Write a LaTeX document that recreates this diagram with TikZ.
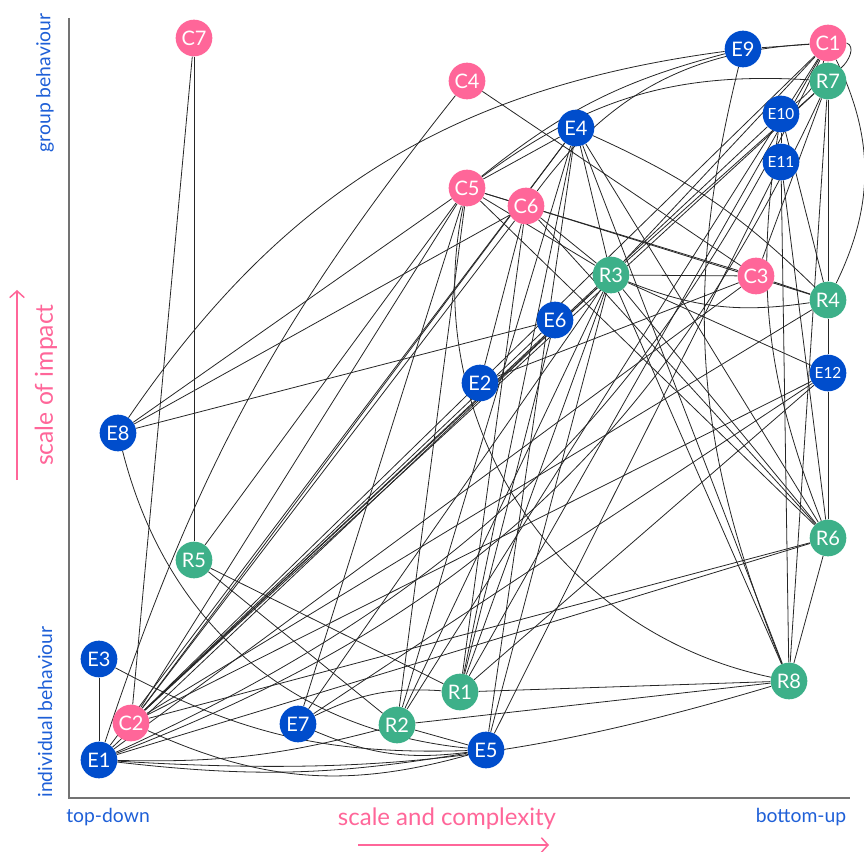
\documentclass[tikz,border=0pt]{standalone}
\usepackage{fontspec}
\setmainfont{Lato}
\usetikzlibrary{arrows.meta}
\definecolor{cpink}{RGB}{255,102,153}
\definecolor{eblue}{RGB}{0,77,204}
\definecolor{rgreen}{RGB}{61,176,137}
\definecolor{lblblue}{RGB}{30,95,215}
\pgfdeclarelayer{bg}
\pgfsetlayers{bg,main}

\begin{document}
\begin{tikzpicture}[x=0.75pt,y=0.75pt,
  dot/.style={circle,inner sep=0pt,minimum size=27.5pt,text=white,font=\fontsize{15}{15}\selectfont},
  cdot/.style={dot,fill=cpink},
  edot/.style={dot,fill=eblue},
  rdot/.style={dot,fill=rgreen},
  twodig/.style={font=\fontsize{11.5}{11.5}\selectfont},
  link/.style={black!85,line width=0.6pt},
  axisline/.style={black!55,line width=1.2pt},
  pinkarrow/.style={cpink,line width=1.1pt,-{Straight Barb[length=5pt,width=11pt]}}]
\useasboundingbox (0,0) rectangle (864,-852);

%Axes
\coordinate (top) at (69,-18);
\coordinate (origin) at (69,-798);
\coordinate (right) at (850,-798);
\draw [axisline] (top) -- (origin) -- (right);

%Axis texts
\node [rotate=90,text=lblblue,font=\fontsize{14.5}{14.5}\selectfont] (grp) at (45,-83) {group behaviour};
\node [rotate=90,text=lblblue,font=\fontsize{14.5}{14.5}\selectfont] (ind) at (45,-712) {individual behaviour};
\node [rotate=90,text=cpink,font=\fontsize{18.5}{18.5}\selectfont] (impact) at (46,-385) {scale of impact};
\node [text=lblblue,font=\fontsize{14.5}{14.5}\selectfont] (tdown) at (108,-817) {top-down};
\node [text=lblblue,font=\fontsize{14.5}{14.5}\selectfont] (bup) at (801,-817) {bottom-up};
\node [text=cpink,font=\fontsize{18}{18}\selectfont] (cplx) at (447,-819) {scale and complexity};
\coordinate (up0) at (17,-480);
\coordinate (up1) at (17,-290);
\coordinate (rt0) at (358,-845);
\coordinate (rt1) at (549,-845);
\draw [pinkarrow] (up0) -- (up1);
\draw [pinkarrow] (rt0) -- (rt1);

%Nodes
\node [cdot] (C1) at (828,-43) {C1};
\node [cdot] (C2) at (131,-723) {C2};
\node [cdot] (C3) at (756,-276) {C3};
\node [cdot] (C4) at (467,-81) {C4};
\node [cdot] (C5) at (467,-188) {C5};
\node [cdot] (C6) at (526,-206) {C6};
\node [cdot] (C7) at (194,-38) {C7};
\node [edot] (E1) at (99,-760) {E1};
\node [edot] (E2) at (480,-383) {E2};
\node [edot] (E3) at (99,-659) {E3};
\node [edot] (E4) at (576,-128) {E4};
\node [edot] (E5) at (486,-750) {E5};
\node [edot] (E6) at (555,-320) {E6};
\node [edot] (E7) at (298,-724) {E7};
\node [edot] (E8) at (118,-433) {E8};
\node [edot] (E9) at (743,-49) {E9};
\node [edot,twodig] (E10) at (781,-114) {E10};
\node [edot,twodig] (E11) at (781,-162) {E11};
\node [edot,twodig] (E12) at (828,-373) {E12};
\node [rdot] (R1) at (460,-692) {R1};
\node [rdot] (R2) at (397,-725) {R2};
\node [rdot] (R3) at (611,-275) {R3};
\node [rdot] (R4) at (828,-300) {R4};
\node [rdot] (R5) at (194,-560) {R5};
\node [rdot] (R6) at (828,-538) {R6};
\node [rdot] (R7) at (828,-81) {R7};
\node [rdot] (R8) at (789,-681) {R8};

%Links
\begin{pgfonlayer}{bg}
\draw [link] (C7) -- (C2);
\draw [link] (C7) -- (R5);
\draw [link] (C4) -- (C3);
\draw [link] (E1) to[bend left=10] (C4);
\draw [link] (E8) to[bend left=24] (E9);
\draw [link] (E8) -- (C5);
\draw [link] (E8) -- (C6);
\draw [link] (E8) -- (E6);
\draw [link] (E8) to[bend right=35] (E5);
\draw [link] (E9) -- (C1);
\draw [link] (E9) to[bend right=12] (C5);
\draw [link] (E9) to[bend right=18] (R8);
\draw [link] (C1.east) to[out=-20,in=40] (R7.north east);
\draw [link] (C1) to[bend left=26] (R4);
\draw [link] (C1) to[bend left=20] (E10);
\draw [link] (C1) -- (R3);
\draw [link] (C1) -- (R1);
\draw [link] (C1) to[bend right=25] (C6);
\draw [link] (C1) -- (R2);
\draw [link] (C1) -- (C2);
\draw [link] (R7) -- (R4);
\draw [link] (R7) -- (R8);
\draw [link] (R7) to[bend right=20] (C5);
\draw [link] (R7) -- (R3);
\draw [link] (R7) -- (C3);
\draw [link] (R7) -- (C2);
\draw [link] (E1) to[bend right=20] (C1);
\draw [link] (E1) to[bend right=22] (R7);
\draw [link] (E10) -- (E11);
\draw [link] (E10) -- (R4);
\draw [link] (E10) to[bend right=15] (R6);
\draw [link] (E10) -- (C2);
\draw [link] (E11) -- (R6);
\draw [link] (E11) -- (R8);
\draw [link] (E11) -- (E5);
\draw [link] (E4) -- (C5);
\draw [link] (E4) -- (R3);
\draw [link] (E4) -- (R6);
\draw [link] (E4) to[bend left=10] (R4);
\draw [link] (E4) -- (C2);
\draw [link] (E4) -- (E1);
\draw [link] (E4) -- (R1);
\draw [link] (E4) -- (R2);
\draw [link] (E4) -- (E5);
\draw [link] (E4) -- (R8);
\draw [link] (C5) -- (C6);
\draw [link] (C5) -- (R3);
\draw [link] (C5) -- (R6);
\draw [link] (C5) to[bend right=45] (R8);
\draw [link] (C5) -- (C2);
\draw [link] (C5) -- (R2);
\draw [link] (C5) -- (R5);
\draw [link] (C5) -- (C3);
\draw [link] (C5) -- (E7);
\draw [link] (C6) -- (R3);
\draw [link] (C6) -- (R6);
\draw [link] (C6) -- (R4);
\draw [link] (C6) -- (E2);
\draw [link] (C6) -- (C2);
\draw [link] (C6) -- (R1);
\draw [link] (R3) -- (C3);
\draw [link] (R3) -- (R6);
\draw [link] (R3) -- (R8);
\draw [link] (R3) -- (E12);
\draw [link] (R3) -- (C2);
\draw [link] (R3) -- (E1);
\draw [link] (R3) -- (R1);
\draw [link] (R3) -- (R2);
\draw [link] (R3) -- (E5);
\draw [link] (R3) -- (E7);
\draw [link] (R3) to[bend right=15] (R4);
\draw [link] (C3) -- (R4);
\draw [link] (C3) -- (E2);
\draw [link] (C3) -- (E1);
\draw [link] (E6) -- (C2);
\draw [link] (E6) -- (R1);
\draw [link] (R4) -- (E12);
\draw [link] (R4) -- (C2);
\draw [link] (E12) -- (R6);
\draw [link] (E12) -- (C2);
\draw [link] (E12) -- (E7);
\draw [link] (E12) -- (R1);
\draw [link] (R6) -- (R8);
\draw [link] (R6) -- (C2);
\draw [link] (R6) -- (E1);
\draw [link] (R5) -- (R1);
\draw [link] (R5) -- (R2);
\draw [link] (R8) -- (R1);
\draw [link] (R8) -- (R2);
\draw [link] (R8) to[bend left=10] (E1);
\draw [link] (R2) -- (E5);
\draw [link] (R2) to[bend left=8] (E1);
\draw [link] (E7) to[bend left=15] (R1);
\draw [link] (E7) to[bend right=15] (E5);
\draw [link] (E3) -- (E1);
\draw [link] (E3) to[bend right=15] (E5);
\draw [link] (E1) to[bend right=8] (E5);
\draw [link] (C2) to[bend right=20] (E5);
\end{pgfonlayer}

\end{tikzpicture}
\end{document}
